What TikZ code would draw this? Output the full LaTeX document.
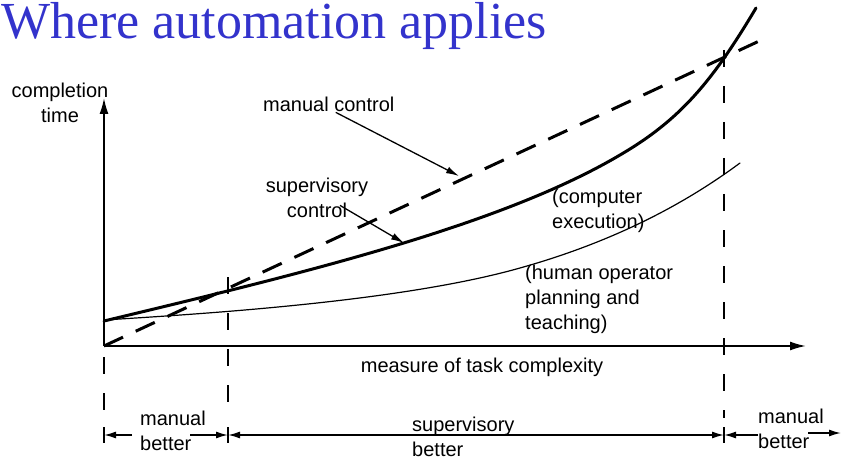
\documentclass[tikz,border=0pt]{standalone}
\usepackage{fontspec}
\setmainfont{Liberation Serif}
\setsansfont{Liberation Sans}
\usetikzlibrary{arrows.meta}
\definecolor{slideblue}{RGB}{51,51,204}
\tikzset{
  heading/.style={font=\fontsize{52}{60}\selectfont, text=slideblue, inner sep=0pt, anchor=base west},
  lbl/.style={font=\sffamily\fontsize{20}{25}\selectfont, inner sep=0pt},
  axis/.style={line width=1.8pt, -{Latex[length=16pt,width=9pt]}},
  guide/.style={line width=1.7pt, dash pattern=on 17pt off 19pt},
  tickmark/.style={line width=1.7pt},
  pointer/.style={line width=1.3pt, -{Latex[length=13pt,width=7pt]}},
  span/.style={line width=1.5pt},
  spantip/.style={-{Latex[length=12pt,width=7pt]}},
  computer/.style={line width=3pt, line cap=round},
  human/.style={line width=1.2pt, line cap=round},
  manual/.style={line width=3pt, dash pattern=on 21pt off 14pt}
}
\begin{document}
\begin{tikzpicture}[x=1pt,y=-1pt]
  \useasboundingbox (0,0) rectangle (842,462);
  \node[heading] (title) at (1,39) {Where automation applies};

  % axes
  \coordinate (origin) at (104,346);
  \coordinate (ytop) at (104,98);
  \coordinate (xend) at (806,346);
  \draw[axis] (origin) -- (ytop);
  \draw[axis] (origin) -- (xend);
  \node[lbl, align=center, anchor=base] (ylabel) at (60,123) {completion\\time};
  \node[lbl, anchor=base] (xlabel) at (482,372) {measure of task complexity};

  % dashed region borders
  \draw[guide] (104,357) -- (104,418);
  \draw[guide] (228,277) -- (228,418);
  \draw[guide] (724,50) -- (724,418);

  % curves
  \draw[manual] (origin) -- (770,36);
  \draw[computer] (104,321) .. controls (300,274) and (500,226) .. (620,155)
                            .. controls (680,120) and (712,82) .. (756,8);
  \draw[human] (104,320) .. controls (200,314) and (400,302) .. (520,268)
                         .. controls (620,240) and (690,200) .. (740,163);

  % curve labels
  \node[lbl, anchor=base west] (mc) at (263,112) {manual control};
  \coordinate (mctip) at (459,176);
  \draw[pointer] ([xshift=7pt]mc.south) -- (mctip);
  \node[lbl, align=center, anchor=base] (sc) at (317,218) {supervisory\\control};
  \coordinate (sctip) at (404,243);
  \draw[pointer] ([xshift=23pt,yshift=13pt]sc.south) -- (sctip);
  \node[lbl, align=left, anchor=base west] (ce) at (552,229) {(computer\\execution)};
  \node[lbl, align=left, anchor=base west] (ho) at (525,329) {(human operator\\planning and\\teaching)};

  % regions below the axis
  \coordinate (tickA) at (104,435);
  \coordinate (tickB) at (228,435);
  \coordinate (tickC) at (724,435);
  \foreach \t in {tickA,tickB,tickC}
    \draw[tickmark] ([yshift=8pt]\t) -- ([yshift=-8pt]\t);
  \node[lbl, align=left, anchor=base west] (mbl) at (140,450) {manual\\better};
  \node[lbl, align=left, anchor=base west] (sb) at (412,456) {supervisory\\better};
  \node[lbl, align=left, anchor=base west] (mbr) at (758,448) {manual\\better};
  \coordinate (mbltail) at (190,435);
  \coordinate (sbtail) at (409,435);
  \coordinate (mbrtail) at (808,433);
  \coordinate (mbrtip) at (841,433);
  \draw[span, spantip] (tickA -| mbl.west) ++(-8,0) -- (tickA);
  \draw[span, spantip] (mbltail) -- (tickB);
  \draw[span, spantip] (sbtail) -- (tickB);
  \draw[span, spantip] (sbtail) -- (tickC);
  \draw[span, spantip] (tickC -| mbr.west) -- (tickC);
  \draw[span, spantip] (mbrtail) -- (mbrtip);
\end{tikzpicture}
\end{document}
